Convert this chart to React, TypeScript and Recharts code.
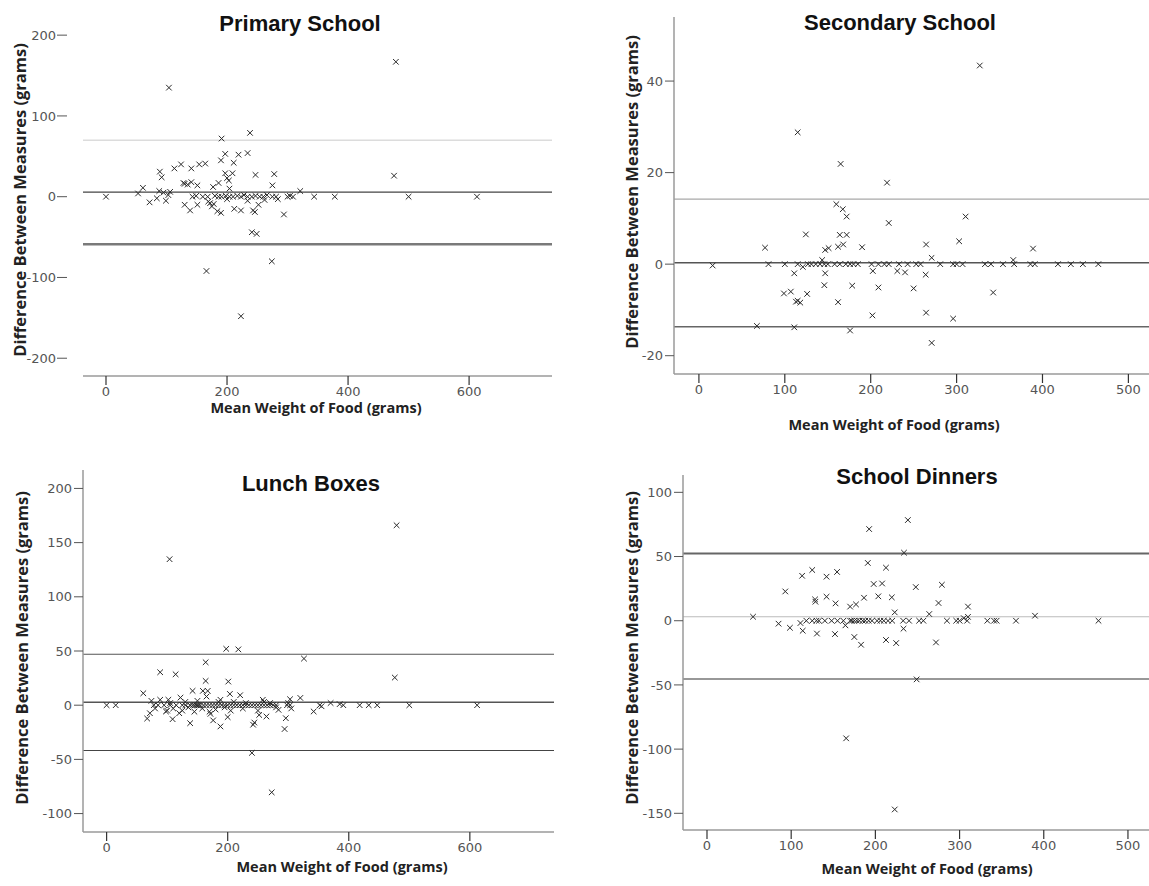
import React from "react";
import { ScatterChart, Scatter, XAxis, YAxis, ReferenceLine } from "recharts";

// ---------- data (x = mean weight, y = difference) ----------
const primaryPoints: [number, number][] = [
  [479, 167], [104, 135], [191, 72], [238, 79], [197, 53], [219, 52], [234, 54], [124, 40], [113, 35], [141, 35],
  [154, 40], [164, 41], [211, 42], [190, 45], [89, 31], [92, 24], [197, 29], [209, 29], [200, 23], [203, 20],
  [247, 27], [278, 28], [476, 26], [128, 17], [141, 18], [151, 14], [177, 12], [186, 17], [275, 14], [61, 11],
  [53, 4], [88, 7], [106, 6], [204, 10], [321, 7], [103, 2], [95, 5], [130, 16], [135, 15],
  [72, -7], [84, -2], [99, -5], [130, -10], [139, -17], [151, -10], [169, -6], [175, -12], [184, -18], [190, -20],
  [212, -15], [223, -17], [234, -5], [243, -17], [246, -19], [252, -10], [284, -3], [294, -22], [241, -44], [249, -46],
  [166, -92], [274, -80], [223, -148], [172, -8], [178, -9], [200, -3], [262, -4],
  [0, 0], [143, 0], [149, 1], [160, 0], [168, 0], [180, 1], [186, 0], [191, 0], [198, 1], [204, 0],
  [210, 0], [217, 1], [223, 0], [228, 2], [234, 0], [241, 0], [247, 1], [254, 0], [260, 0], [266, 2],
  [275, 0], [281, 0], [300, 0], [304, 1], [309, 0], [344, 0], [378, 0], [500, 0], [613, 0],
];

const secondaryPoints: [number, number][] = [
  [327, 43.4], [115, 28.8], [165, 21.9], [219, 17.8], [160, 13.1], [167.5, 12], [172, 10.4], [221, 9], [310.5, 10.4],
  [124.5, 6.5], [164, 6.4], [172, 6.4], [168, 4.3], [162, 3.8], [190, 3.7], [77, 3.6], [147, 3.1], [151, 3.5],
  [264.5, 4.3], [303, 5], [389, 3.4], [271, 1.4], [366, 0.9], [143.5, 0.9],
  [16, -0.3], [81, 0], [100, 0], [115, 0], [121, -0.6], [127, 0], [131, 0], [136, 0], [141, 0], [146, 0], [150, 0],
  [158, 0], [164, 0], [171, 0], [176, 0], [180, 0], [185, 0], [201, 0], [209, 0], [216, 0], [221, 0], [233, 0],
  [243, 0], [253, 0], [258, 0], [281, 0], [296, 0], [300, 0], [307, 0], [333, 0], [340, 0], [354, 0], [367, 0],
  [386, 0], [391, 0], [418, 0], [433, 0], [447, 0], [465, 0],
  [111, -2], [147, -2], [202.5, -1.5], [231, -1.5], [240, -1.8], [264, -2.3], [146, -4.6], [178.5, -4.7],
  [209, -5.1], [250, -5.3], [342.6, -6.2], [99, -6.4], [107, -6], [126, -6.5], [115, -8], [118, -8.4], [113, -8.2],
  [162, -8.3], [202, -11.2], [264.5, -10.6], [296, -11.9], [67.5, -13.5], [111, -13.8], [176, -14.5], [271, -17.2],
];

const lunchPoints: [number, number][] = [
  [479, 166], [104, 134.7], [197.6, 52], [217.6, 51.5], [326, 43], [163.6, 39.6], [88.5, 30.4], [114, 28.5],
  [476, 25.5], [163.6, 22.4], [201, 21.8], [60.6, 11], [142, 13.2], [159, 13.2], [167, 13.2], [203.6, 10.4],
  [220.6, 9.2], [320, 6.7], [122, 7], [74, 4], [88.5, 5], [102, 5], [188, 5], [258, 5], [303, 5.5],
  [0, 0], [15, 0], [78, 0], [85, 0], [95, 0], [105, 0], [115, 0], [125, 0], [130, 0], [138, 0], [142, 0], [145, 0],
  [148, 0], [150, 0], [152, 0], [155, 0], [160, 0], [165, 0], [170, 0], [175, 0], [180, 0], [185, 0], [190, 0],
  [195, 0], [200, 0], [205, 0], [210, 0], [215, 0], [220, 0], [225, 0], [230, 0], [235, 0], [240, 0], [245, 0],
  [250, 0], [255, 0], [260, 0], [265, 0], [270, 0], [275, 0], [280, 0], [298, 0], [303, 0], [352, 0], [370, 2],
  [385, 1], [391, 0], [418, 0], [433, 0], [447, 0], [500, 0], [612, 0],
  [80, -3], [100, -5], [105, 2], [110, -3], [125, -5], [130, 3], [135, -2], [145, -6], [150, 4], [158, -3],
  [165, 8], [170, -6], [180, -4], [185, 3], [195, -2], [205, -5], [210, 3], [225, -3], [230, 2], [250, -5],
  [260, 3], [270, 2], [280, -2], [300, 2], [305, -3], [355, -1],
  [342, -5.8], [67, -12.3], [71.5, -7.4], [98, -5.8], [109, -12.9], [120, -7.4], [138, -16.6], [176, -14],
  [188, -19.6], [200, -11], [171.5, -8], [242, -18], [244, -16], [252, -9], [264, -10.4], [294, -22], [296, -12],
  [284, -4.3], [240, -44], [272.7, -80.4],
];

const dinnerPoints: [number, number][] = [
  [238.6, 78.4], [192.6, 71.4], [234, 53], [191, 45], [212.6, 41.3], [125, 39.5], [154.5, 38], [113, 35], [142, 34.3],
  [93, 22.8], [198, 28.6], [208, 29], [248, 26.2], [279, 28], [128.4, 16.6], [128.8, 14.8], [142, 18.7],
  [152.7, 13.5], [170, 11], [177, 12.7], [186.5, 17.9], [203.5, 19], [219.5, 18.2], [275, 13.8], [310, 11],
  [223, 6.5], [54.7, 3.1], [264, 5.2], [389.6, 3.9],
  [118, 0], [125, 0], [130, 0], [133, 0], [140, 0], [148, 0], [155, 0], [162, 0], [170, 0], [172, 0], [175, 0],
  [178, 0], [181, 0], [185, 0], [188, 0], [192, 0], [196, 0], [202, 0], [206, 0], [210, 0], [215, 0], [220, 0],
  [233, 0], [240, 0], [252, 0], [257, 0], [285, 0], [296, 0], [300, 0], [305, 2], [309, 0], [310, 3], [333, 0],
  [341, 0], [344, 0], [367, 0], [465, 0],
  [85, -2.3], [98.5, -5.5], [111, -1.8], [113.7, -7.8], [130.6, -10], [152, -10.4], [164.4, -3.6], [175, -12.7],
  [183, -18.7], [212.6, -15], [224.7, -17.4], [233.4, -6.2], [272, -16.9], [249, -45.7], [165.3, -91.6], [223, -147],
];

// limits of agreement: [upper, mean, lower]
const primaryLimits = [70, 5.6, -58.8];
const secondaryLimits = [14.2, 0.3, -13.7];
const lunchLimits = [47, 2.8, -41.8];
const dinnerLimits = [52.4, 3.1, -45.4];

const primaryXTicks = [0, 200, 400, 600];
const primaryYTicks = [-200, -100, 0, 100, 200];
const secondaryXTicks = [0, 100, 200, 300, 400, 500];
const secondaryYTicks = [-20, 0, 20, 40];
const lunchXTicks = [0, 200, 400, 600];
const lunchYTicks = [-100, -50, 0, 50, 100, 150, 200];
const dinnerXTicks = [0, 100, 200, 300, 400, 500];
const dinnerYTicks = [-150, -100, -50, 0, 50, 100];

const titles = ["Primary School", "Secondary School", "Lunch Boxes", "School Dinners"];
const xTitle = "Mean Weight of Food (grams)";
const yTitle = "Difference Between Measures (grams)";

// ---------- rendering ----------
const Cross = (props: any) => {
  const { cx, cy } = props;
  if (cx == null || cy == null) return null;
  const s = 2.8;
  return (
    <g>
      <line x1={cx - s} y1={cy - s} x2={cx + s} y2={cy + s} stroke="#2a2a2a" strokeWidth={1} />
      <line x1={cx - s} y1={cy + s} x2={cx + s} y2={cy - s} stroke="#2a2a2a" strokeWidth={1} />
    </g>
  );
};

const tickStyle = { fontFamily: "DejaVu Sans", fontSize: 13, fill: "#555" };

// y tick detached from the plot edge (first panel has no y axis line)
const DetachedYTick = (props: any) => {
  const { x, y, payload } = props;
  return (
    <g>
      <line x1={x - 26} y1={y} x2={x - 16} y2={y} stroke="#555" strokeWidth={1} />
      <text x={x - 27} y={y} dy="0.36em" textAnchor="end" {...tickStyle}>
        {payload.value}
      </text>
    </g>
  );
};

type LineStyle = { stroke: string; width: number };

type PanelProps = {
  left: number;
  top: number;
  width: number;
  height: number;
  margin: { top: number; right: number; bottom: number; left: number };
  yAxisWidth: number;
  xAxisHeight: number;
  xDomain: [number, number];
  yDomain: [number, number];
  xTicks: number[];
  yTicks: number[];
  points: [number, number][];
  limits: number[];
  lineStyles: LineStyle[];
  yAxisLine: boolean;
};

function Panel(p: PanelProps) {
  const data = p.points.map(([x, y]) => ({ x, y }));
  return (
    <div style={{ position: "absolute", left: p.left, top: p.top }}>
      <ScatterChart width={p.width} height={p.height} margin={p.margin}>
        <XAxis
          type="number"
          dataKey="x"
          domain={p.xDomain}
          ticks={p.xTicks}
          interval={0}
          height={p.xAxisHeight}
          tickSize={9}
          tickMargin={2}
          tick={tickStyle}
          axisLine={{ stroke: "#9a9a9a", strokeWidth: 1.5 }}
          tickLine={{ stroke: "#333", strokeWidth: 1.2 }}
          allowDataOverflow
        />
        {p.yAxisLine ? (
          <YAxis
            type="number"
            dataKey="y"
            domain={p.yDomain}
            ticks={p.yTicks}
            interval={0}
            width={p.yAxisWidth}
            tickSize={9}
            tickMargin={2}
            tick={tickStyle}
            axisLine={{ stroke: "#9a9a9a", strokeWidth: 1.5 }}
            tickLine={{ stroke: "#555", strokeWidth: 1 }}
            allowDataOverflow
          />
        ) : (
          <YAxis
            type="number"
            dataKey="y"
            domain={p.yDomain}
            ticks={p.yTicks}
            interval={0}
            width={p.yAxisWidth}
            tickSize={0}
            tickMargin={0}
            tick={DetachedYTick}
            axisLine={false}
            tickLine={false}
            allowDataOverflow
          />
        )}
        {p.limits.map((v, i) => (
          <ReferenceLine
            key={i}
            y={v}
            stroke={p.lineStyles[i].stroke}
            strokeWidth={p.lineStyles[i].width}
            ifOverflow="extendDomain"
          />
        ))}
        <Scatter data={data} shape={Cross} isAnimationActive={false} />
      </ScatterChart>
    </div>
  );
}

const titleFont = { fontFamily: "Liberation Sans", fontWeight: 700, fontSize: 22, fill: "#111" };
const axisTitleFont = { fontFamily: "Open Sans", fontWeight: 700, fontSize: 14.5, fill: "#222" };
const yTitleFont = { fontFamily: "Open Sans", fontWeight: 700, fontSize: 16.5, fill: "#222" };

export default function App() {
  return (
    <div
      style={{
        position: "absolute",
        left: 0,
        top: 0,
        width: 1149,
        height: 886,
        background: "#fff",
        overflow: "hidden",
      }}
    >
      <Panel
        left={0}
        top={0}
        width={580}
        height={440}
        margin={{ top: 19, right: 28, bottom: 0, left: 0 }}
        yAxisWidth={83}
        xAxisHeight={64}
        xDomain={[-38, 737]}
        yDomain={[-222, 220]}
        xTicks={primaryXTicks}
        yTicks={primaryYTicks}
        points={primaryPoints}
        limits={primaryLimits}
        lineStyles={[
          { stroke: "#dcdcdc", width: 1.5 },
          { stroke: "#444", width: 1.2 },
          { stroke: "#7a7a7a", width: 2.5 },
        ]}
        yAxisLine={false}
      />
      <Panel
        left={580}
        top={0}
        width={569}
        height={440}
        margin={{ top: 17, right: 0, bottom: 0, left: 0 }}
        yAxisWidth={94}
        xAxisHeight={66}
        xDomain={[-29, 524]}
        yDomain={[-24, 54]}
        xTicks={secondaryXTicks}
        yTicks={secondaryYTicks}
        points={secondaryPoints}
        limits={secondaryLimits}
        lineStyles={[
          { stroke: "#a8a8a8", width: 1.2 },
          { stroke: "#555", width: 1.5 },
          { stroke: "#666", width: 1.5 },
        ]}
        yAxisLine={true}
      />
      <Panel
        left={0}
        top={440}
        width={580}
        height={446}
        margin={{ top: 30, right: 26, bottom: 0, left: 0 }}
        yAxisWidth={83}
        xAxisHeight={54}
        xDomain={[-39, 739]}
        yDomain={[-117, 217]}
        xTicks={lunchXTicks}
        yTicks={lunchYTicks}
        points={lunchPoints}
        limits={lunchLimits}
        lineStyles={[
          { stroke: "#555", width: 1.2 },
          { stroke: "#555", width: 1.5 },
          { stroke: "#444", width: 1.2 },
        ]}
        yAxisLine={true}
      />
      <Panel
        left={580}
        top={440}
        width={569}
        height={446}
        margin={{ top: 35, right: 0, bottom: 0, left: 0 }}
        yAxisWidth={103}
        xAxisHeight={56}
        xDomain={[-28.5, 525]}
        yDomain={[-163, 113.5]}
        xTicks={dinnerXTicks}
        yTicks={dinnerYTicks}
        points={dinnerPoints}
        limits={dinnerLimits}
        lineStyles={[
          { stroke: "#666", width: 2 },
          { stroke: "#bbb", width: 1.2 },
          { stroke: "#333", width: 1.2 },
        ]}
        yAxisLine={true}
      />
      <svg
        width={1149}
        height={886}
        style={{ position: "absolute", left: 0, top: 0, pointerEvents: "none" }}
      >
        <text x={300} y={31} textAnchor="middle" {...titleFont}>{titles[0]}</text>
        <text x={900} y={30} textAnchor="middle" {...titleFont}>{titles[1]}</text>
        <text x={311} y={491} textAnchor="middle" {...titleFont}>{titles[2]}</text>
        <text x={917} y={484} textAnchor="middle" {...titleFont}>{titles[3]}</text>

        <text x={316} y={413} textAnchor="middle" {...axisTitleFont}>{xTitle}</text>
        <text x={894} y={430} textAnchor="middle" {...axisTitleFont}>{xTitle}</text>
        <text x={342} y={872} textAnchor="middle" {...axisTitleFont}>{xTitle}</text>
        <text x={927} y={874} textAnchor="middle" {...axisTitleFont}>{xTitle}</text>

        <text x={19} y={200} textAnchor="middle" dominantBaseline="central" transform="rotate(-90 19 200)" {...yTitleFont}>{yTitle}</text>
        <text x={631} y={192} textAnchor="middle" dominantBaseline="central" transform="rotate(-90 631 192)" {...yTitleFont}>{yTitle}</text>
        <text x={21} y={648} textAnchor="middle" dominantBaseline="central" transform="rotate(-90 21 648)" {...yTitleFont}>{yTitle}</text>
        <text x={631} y={648} textAnchor="middle" dominantBaseline="central" transform="rotate(-90 631 648)" {...yTitleFont}>{yTitle}</text>
      </svg>
    </div>
  );
}
